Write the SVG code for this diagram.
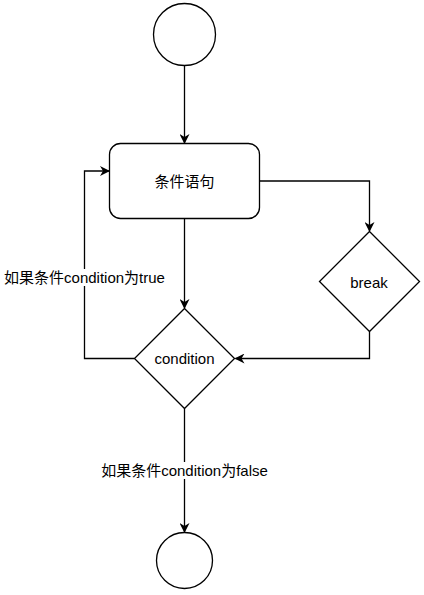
<svg xmlns="http://www.w3.org/2000/svg" width="424" height="595" viewBox="0 0 424 595">
<style>
.shape{fill:#fff;stroke:#000;stroke-width:1.3}
.edge{fill:none;stroke:#000;stroke-width:1.3}
text{font-family:"Liberation Sans","Noto Sans CJK SC",sans-serif;font-size:15px;fill:#000;text-anchor:middle;dominant-baseline:central}
.lbl{fill:#fff;stroke:none}
</style>
<defs>
<marker id="arr" viewBox="0 0 10 10" refX="9" refY="5" markerWidth="10" markerHeight="10" markerUnits="userSpaceOnUse" orient="auto">
<path d="M0,0 L10,5 L0,10 L3,5 Z" fill="#000"/>
</marker>
</defs>
<g id="edges">
<path class="edge" d="M184.5,66 L184.5,143" marker-end="url(#arr)"/>
<path class="edge" d="M184.5,218.5 L184.5,308" marker-end="url(#arr)"/>
<path class="edge" d="M259.5,181 L369.5,181 L369.5,231" marker-end="url(#arr)"/>
<path class="edge" d="M369.5,331.5 L369.5,358.5 L235.5,358.5" marker-end="url(#arr)"/>
<path class="edge" d="M134.5,358.5 L84.5,358.5 L84.5,171 L109,171" marker-end="url(#arr)"/>
<path class="edge" d="M184.5,408.5 L184.5,532" marker-end="url(#arr)"/>
<rect class="lbl" x="3" y="269" width="163" height="17"/>
<text x="84.5" y="277.5">如果条件condition为true</text>
<rect class="lbl" x="100" y="462" width="168" height="17"/>
<text x="184.5" y="470">如果条件condition为false</text>
</g>
<g id="start"><circle class="shape" cx="184.5" cy="34.5" r="31"/></g>
<g id="stmt"><rect class="shape" x="109.5" y="143.5" width="150" height="75" rx="11"/><text x="184.5" y="181">条件语句</text></g>
<g id="cond"><path class="shape" d="M184.5,308.5 L234.5,358.5 L184.5,408.5 L134.5,358.5 Z"/><text x="184.5" y="358">condition</text></g>
<g id="brk"><path class="shape" d="M369.5,231.5 L419.5,281.5 L369.5,331.5 L319.5,281.5 Z"/><text x="369" y="282">break</text></g>
<g id="end"><circle class="shape" cx="184.5" cy="560.5" r="28"/></g>
</svg>
